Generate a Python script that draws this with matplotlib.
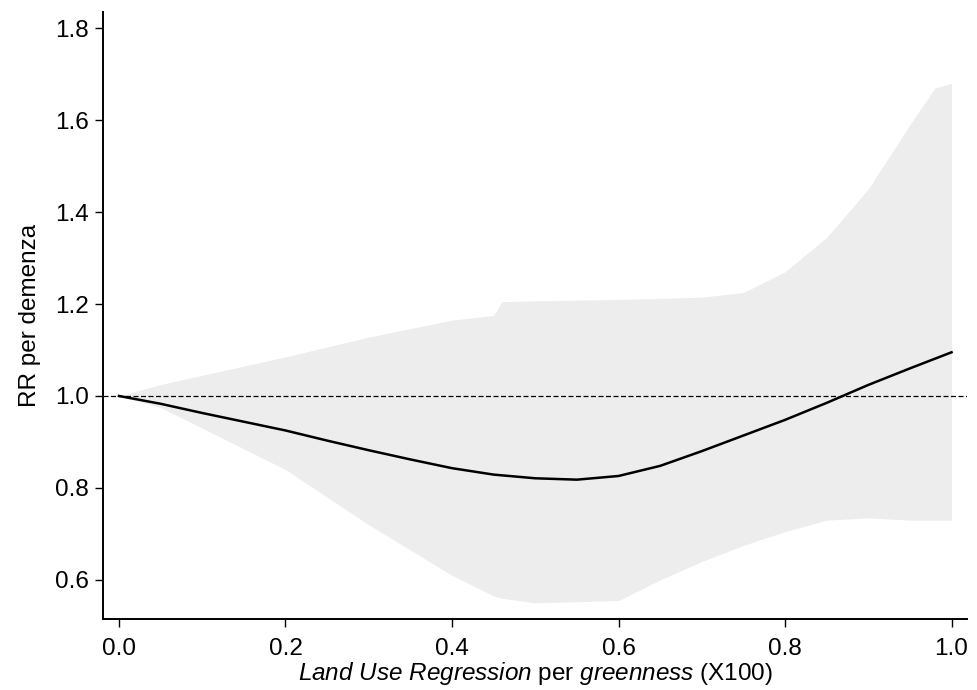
import numpy as np
import matplotlib
matplotlib.use("Agg")
import matplotlib.pyplot as plt

plt.rcParams["font.family"] = ["Liberation Sans", "DejaVu Sans"]
plt.rcParams["mathtext.fontset"] = "custom"
plt.rcParams["mathtext.rm"] = "Liberation Sans"
plt.rcParams["mathtext.it"] = "Liberation Sans:italic"

# Curve (relative risk)
x_curve = [0.0, 0.05, 0.1, 0.15, 0.2, 0.25, 0.3, 0.35, 0.4, 0.45, 0.5, 0.55,
           0.6, 0.65, 0.7, 0.75, 0.8, 0.85, 0.9, 0.95, 1.0]
rr = [1.0, 0.983, 0.963, 0.944, 0.925, 0.903, 0.882, 0.862, 0.843, 0.829,
      0.821, 0.818, 0.826, 0.848, 0.880, 0.914, 0.948, 0.985, 1.024, 1.060, 1.095]

# Confidence band
x_band = [0.0, 0.05, 0.1, 0.2, 0.3, 0.4, 0.45, 0.46, 0.5, 0.6, 0.65, 0.7,
          0.75, 0.8, 0.85, 0.9, 0.95, 0.98, 1.0]
band_hi = [1.0, 1.025, 1.045, 1.085, 1.128, 1.165, 1.175, 1.205, 1.207, 1.21,
           1.212, 1.215, 1.225, 1.27, 1.345, 1.45, 1.59, 1.67, 1.68]
band_lo = [1.0, 0.975, 0.93, 0.84, 0.72, 0.61, 0.565, 0.56, 0.55, 0.555,
           0.60, 0.64, 0.675, 0.705, 0.73, 0.735, 0.73, 0.73, 0.73]

x_ticks = [0.0, 0.2, 0.4, 0.6, 0.8, 1.0]
y_ticks = [0.6, 0.8, 1.0, 1.2, 1.4, 1.6, 1.8]

fig = plt.figure(figsize=(9.77, 6.9), dpi=100)
ax = fig.add_axes([0.1054, 0.1029, 0.8844, 0.8797])

ax.fill_between(x_band, band_lo, band_hi, color="#ededed", linewidth=0)
ax.axhline(1.0, color="black", linestyle=(0, (4, 2)), linewidth=0.9)
ax.plot(x_curve, rr, color="black", linewidth=1.8)

ax.set_xlim(-0.0192, 1.0186)
ax.set_ylim(0.515, 1.835)
ax.set_xticks(x_ticks)
ax.set_xticklabels([f"{v:.1f}" for v in x_ticks])
ax.set_yticks(y_ticks)
ax.set_yticklabels([f"{v:.1f}" for v in y_ticks])

for side in ["top", "right"]:
    ax.spines[side].set_visible(False)
for side in ["left", "bottom"]:
    ax.spines[side].set_linewidth(1.4)

ax.tick_params(axis="both", direction="out", length=6, width=1, labelsize=17.5)
ax.tick_params(axis="x", pad=8)
ax.tick_params(axis="y", pad=4)

ax.set_ylabel("RR per demenza", fontsize=17.5, labelpad=10)
ax.set_xlabel(r"$\mathit{Land\ Use\ Regression}$ per $\mathit{greenness}$ (X100)",
              fontsize=17.5, labelpad=0)

fig.savefig("out.png", dpi=100)
